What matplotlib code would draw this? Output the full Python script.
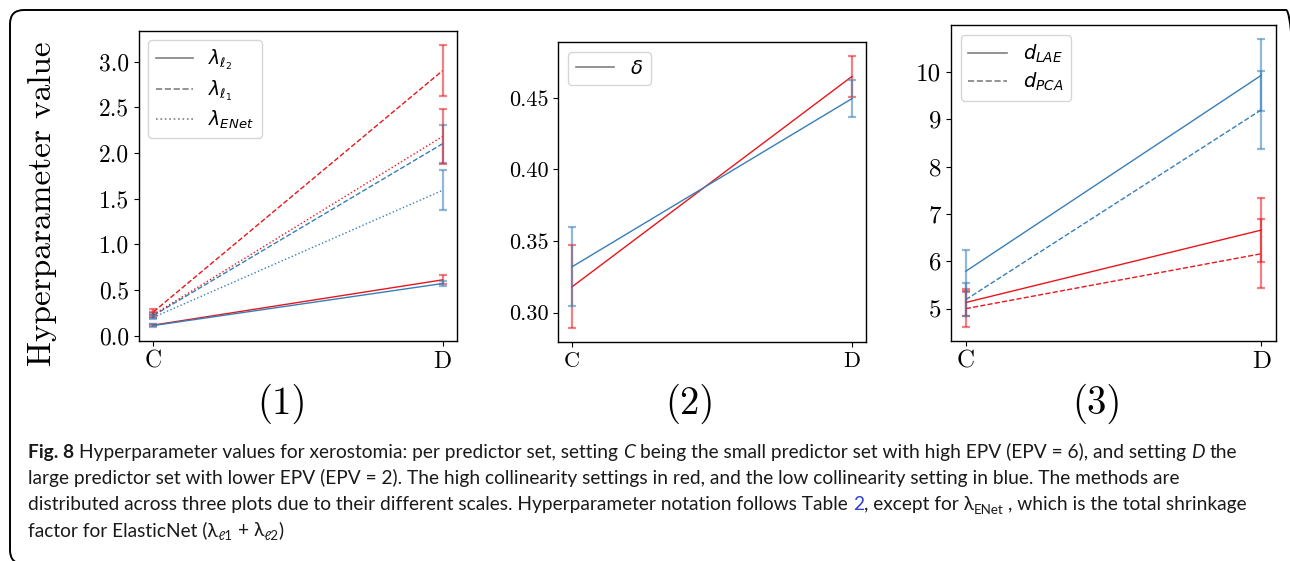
import matplotlib
matplotlib.use('Agg')
import matplotlib.pyplot as plt
from matplotlib.lines import Line2D
from matplotlib.patches import FancyBboxPatch
from matplotlib.ticker import MultipleLocator
from matplotlib.transforms import IdentityTransform

W, H = 1290, 561
settings = ['C', 'D']

# (1) shrinkage parameters, red = high collinearity, blue = low collinearity
l2_red = [0.115, 0.61]
l2_red_err = [0.015, 0.05]
l2_blue = [0.11, 0.57]
l2_blue_err = [0.015, 0.03]
l1_red = [0.26, 2.90]
l1_red_err = [0.03, 0.28]
l1_blue = [0.22, 2.10]
l1_blue_err = [0.03, 0.21]
enet_red = [0.23, 2.18]
enet_red_err = [0.03, 0.30]
enet_blue = [0.20, 1.59]
enet_blue_err = [0.02, 0.22]

# (2) delta
delta_red = [0.318, 0.465]
delta_red_err = [0.029, 0.0145]
delta_blue = [0.332, 0.4495]
delta_blue_err = [0.0275, 0.013]

# (3) number of components
lae_red = [5.13, 6.66]
lae_red_err = [0.29, 0.67]
lae_blue = [5.79, 9.93]
lae_blue_err = [0.44, 0.76]
pca_red = [5.00, 6.16]
pca_red_err = [0.38, 0.73]
pca_blue = [5.19, 9.20]
pca_blue_err = [0.35, 0.83]

RED = '#e8161c'
BLUE = '#377eb8'

plt.rcParams['font.family'] = 'cmr10'
plt.rcParams['axes.linewidth'] = 1.0

fig = plt.figure(figsize=(W / 100, H / 100), dpi=100)


def px_axes(left, top, right, bottom):
    return fig.add_axes([left / W, (H - bottom) / H, (right - left) / W, (bottom - top) / H])


def draw(ax, vals, errs, color, ls):
    ax.plot(settings, vals, color=color, ls=ls, lw=1)
    ax.errorbar(settings, vals, yerr=errs, fmt='none', ecolor=color, alpha=0.55,
                elinewidth=1.6, capsize=3, capthick=1.6)


def handles(styles):
    return [Line2D([], [], color='gray', lw=1.2, ls=s) for s in styles]


# panel 1
ax1 = px_axes(139, 31, 457, 341)
draw(ax1, l2_red, l2_red_err, RED, '-')
draw(ax1, l2_blue, l2_blue_err, BLUE, '-')
draw(ax1, l1_red, l1_red_err, RED, '--')
draw(ax1, l1_blue, l1_blue_err, BLUE, '--')
draw(ax1, enet_red, enet_red_err, RED, ':')
draw(ax1, enet_blue, enet_blue_err, BLUE, ':')
ax1.yaxis.set_major_locator(MultipleLocator(0.5))
ax1.legend(handles(['-', '--', ':']),
           [r'$\lambda_{\ell_2}$', r'$\lambda_{\ell_1}$', r'$\lambda_{ENet}$'],
           loc='upper left', fontsize=13.5, labelspacing=0.3)

# panel 2
ax2 = px_axes(558, 42, 866, 342)
draw(ax2, delta_red, delta_red_err, RED, '-')
draw(ax2, delta_blue, delta_blue_err, BLUE, '-')
ax2.yaxis.set_major_locator(MultipleLocator(0.05))
ax2.legend(handles(['-']), [r'$\delta$'], loc='upper left', fontsize=14)

# panel 3
ax3 = px_axes(951, 25, 1276, 341)
draw(ax3, lae_red, lae_red_err, RED, '-')
draw(ax3, lae_blue, lae_blue_err, BLUE, '-')
draw(ax3, pca_red, pca_red_err, RED, '--')
draw(ax3, pca_blue, pca_blue_err, BLUE, '--')
ax3.yaxis.set_major_locator(MultipleLocator(1))
ax3.legend(handles(['-', '--']), [r'$d_{LAE}$', r'$d_{PCA}$'], loc='upper left',
           fontsize=14, labelspacing=0.3)

for ax, fs in [(ax1, 17), (ax2, 16), (ax3, 18)]:
    ax.tick_params(labelsize=fs)

fig.text(42 / W, 1 - 204 / H, 'Hyperparameter value', rotation=90, fontsize=24,
         ha='center', va='center')
for x, lab in [(282, '(1)'), (690, '(2)'), (1097, '(3)')]:
    fig.text(x / W, 1 - 404 / H, lab, fontsize=28, ha='center', va='center')

# rounded frame round the whole figure (bottom and right edges run off the image)
frame = FancyBboxPatch((10, -3), 1290, 554, boxstyle='round,pad=0,rounding_size=14',
                       transform=IdentityTransform(), fill=False, ec='black', lw=1.4)
fig.add_artist(frame)

# caption, written run by run
FAMILY = ['Lato', 'DejaVu Sans']
renderer = fig.canvas.get_renderer()


def text_w(s, **kw):
    t = fig.text(0, 0, s, transform=IdentityTransform(), **kw)
    w = t.get_window_extent(renderer).width
    t.remove()
    return w


def write_line(x, y, runs, size, dry=False):
    x0 = x
    for s, kw in runs:
        style = dict(family=FAMILY, color='#1a1a1a')
        style.update(kw)
        scale = style.pop('scale', 1.0)
        dy = style.pop('dy', 0) * size / 13
        style['fontsize'] = size * scale
        sp = text_w('x x', **style) - text_w('xx', **style)
        core = s.strip(' ')
        x += sp * (len(s) - len(s.lstrip(' ')))
        if core:
            if dry:
                x += text_w(core, **style)
            else:
                t = fig.text(x, y - dy, core, transform=IdentityTransform(),
                             va='baseline', **style)
                x = t.get_window_extent(renderer).x1
        x += sp * (len(s) - len(s.rstrip(' ')))
    return x - x0


SUB = dict(scale=0.7, dy=4)
lines = [
    [('Fig. 8', dict(weight='bold')),
     (' Hyperparameter values for xerostomia: per predictor set, setting ', {}),
     ('C', dict(style='italic')),
     (' being the small predictor set with high EPV (EPV = 6), and setting ', {}),
     ('D', dict(style='italic')),
     (' the', {})],
    [('large predictor set with lower EPV (EPV = 2). The high collinearity settings in red, '
      'and the low collinearity setting in blue. The methods are', {})],
    [('distributed across three plots due to their different scales. Hyperparameter notation '
      'follows Table ', {}),
     ('2', dict(color='#2f3fd0')),
     (', except for λ', {}),
     ('ENet', SUB),
     (' , which is the total shrinkage', {})],
    [('factor for ElasticNet (λ', {}),
     ('ℓ1', SUB),
     (' + λ', {}),
     ('ℓ2', SUB),
     (')', {})],
]

# size the caption so that its lines span about the same width as in the figure
size = 13 * 1210 / write_line(0, 0, lines[0], 13, dry=True)
for i, runs in enumerate(lines):
    write_line(28, H - 458 - 26 * i, runs, size)

fig.savefig('out.png', dpi=100)
